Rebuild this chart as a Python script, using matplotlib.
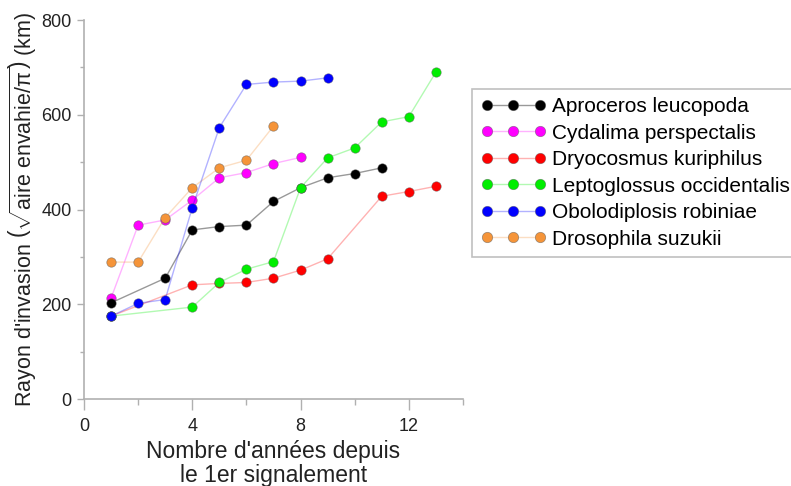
import matplotlib
matplotlib.use("Agg")
import matplotlib.pyplot as plt
from matplotlib.ticker import MultipleLocator

plt.rcParams['font.family'] = ['Liberation Sans', 'DejaVu Sans']
plt.rcParams['mathtext.fontset'] = 'custom'
plt.rcParams['mathtext.rm'] = 'Liberation Sans'
plt.rcParams['mathtext.it'] = 'Liberation Sans:italic'

# values (years since first report, invasion radius km)
aproceros_x = [1, 3, 4, 5, 6, 7, 8, 9, 10, 11]
aproceros_y = [203, 255, 357, 364, 367, 417, 446, 467, 476, 488]

cydalima_x = [1, 2, 3, 4, 5, 6, 7, 8]
cydalima_y = [213, 367, 378, 420, 467, 478, 497, 510]

dryocosmus_x = [1, 4, 5, 6, 7, 8, 9, 11, 12, 13]
dryocosmus_y = [175, 241, 244, 246, 255, 272, 296, 428, 438, 449]

leptoglossus_x = [1, 4, 5, 6, 7, 8, 9, 10, 11, 12, 13]
leptoglossus_y = [175, 194, 246, 274, 290, 446, 509, 530, 585, 596, 690]

obolodiplosis_x = [1, 2, 3, 4, 5, 6, 7, 8, 9]
obolodiplosis_y = [175, 202, 210, 404, 573, 664, 669, 671, 678]

drosophila_x = [1, 2, 3, 4, 5, 6, 7]
drosophila_y = [289, 289, 383, 446, 488, 504, 576]

names = ["Aproceros leucopoda", "Cydalima perspectalis", "Dryocosmus kuriphilus",
         "Leptoglossus occidentalis", "Obolodiplosis robiniae", "Drosophila suzukii"]
colors = ["#000000", "#ff00ff", "#ff0000", "#00ee00", "#0000ff", "#f59439"]
series = [(aproceros_x, aproceros_y), (cydalima_x, cydalima_y),
          (dryocosmus_x, dryocosmus_y), (leptoglossus_x, leptoglossus_y),
          (obolodiplosis_x, obolodiplosis_y), (drosophila_x, drosophila_y)]

fig = plt.figure(figsize=(7.91, 4.86), dpi=100)
ax = fig.add_axes([0.1062, 0.179, 0.4791, 0.7798])

draw_order = [2, 1, 0, 3, 5, 4]
handles = [None] * 6
for i in draw_order:
    xs, ys = series[i]
    c = matplotlib.colors.to_rgb(colors[i])
    line_c = (c[0], c[1], c[2], 0.3 if i != 0 else 0.4)
    h, = ax.plot(xs, ys, '-', color=line_c, lw=1.0, marker='o', ms=6.8,
                 mfc=colors[i], mec=(0.35, 0.35, 0.35, 0.6), mew=0.5, label=names[i])
    handles[i] = h

ax.set_xlim(0, 14)
ax.set_ylim(0, 800)
ax.xaxis.set_major_locator(MultipleLocator(4))
ax.xaxis.set_minor_locator(MultipleLocator(2))
ax.yaxis.set_major_locator(MultipleLocator(200))
ax.yaxis.set_minor_locator(MultipleLocator(100))

for s in ['top', 'right']:
    ax.spines[s].set_visible(False)
for s in ['left', 'bottom']:
    ax.spines[s].set_color('#b0b0b0')
    ax.spines[s].set_linewidth(1.2)

ax.tick_params(axis='x', which='major', length=8, width=1, color='#b0b0b0',
               labelsize=13, labelcolor='#222222', pad=6)
ax.tick_params(axis='x', which='minor', length=4, width=1, color='#b0b0b0')
ax.tick_params(axis='y', which='major', length=5, width=1, color='#b0b0b0',
               labelsize=13, labelcolor='#222222', pad=4)
ax.tick_params(axis='y', which='minor', length=3, width=1, color='#b0b0b0')

ax.set_xlabel("Nombre d'années depuis\nle 1er signalement", fontsize=16.5,
              color='#222222', linespacing=1.08, labelpad=3)
ax.set_ylabel(r"Rayon d'invasion $\left(\sqrt{\mathrm{aire\ envahie/π}}\right)$ (km)",
              fontsize=15.5, color='#222222', labelpad=2)

leg = fig.legend(handles=handles, labels=names, loc='upper left',
                 bbox_to_anchor=(0.597, 0.817), numpoints=3, fontsize=15,
                 frameon=True, fancybox=False, edgecolor='#b0b0b0',
                 handlelength=3.15, handletextpad=0.26, labelspacing=0.36,
                 borderpad=0.4, borderaxespad=0, markerscale=1.1)
leg.get_frame().set_linewidth(1.2)

fig.savefig("out.png", dpi=100)
